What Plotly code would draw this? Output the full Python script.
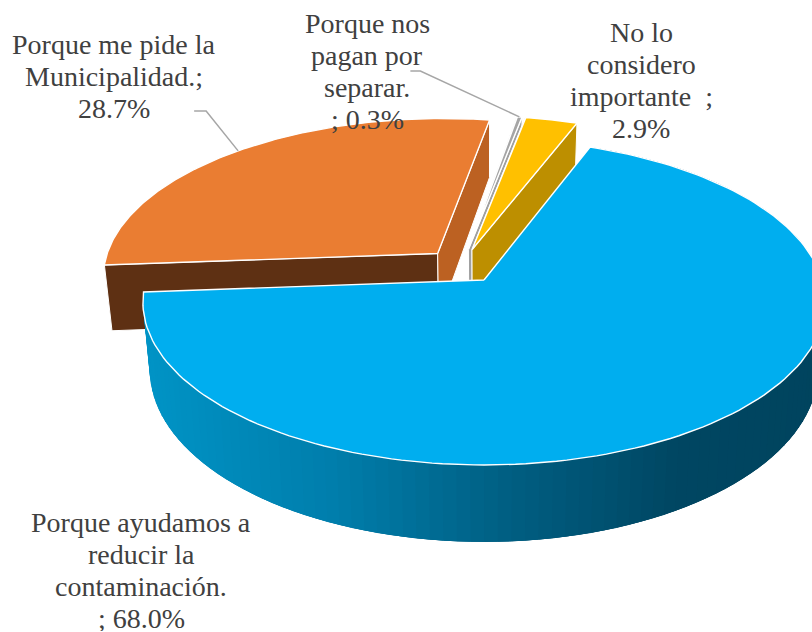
import math
import plotly.graph_objects as go

# ---- data ----
categories = ["Porque ayudamos a reducir la contaminación.", "Porque me pide la Municipalidad.",
              "Porque nos pagan por separar.", "No lo considero importante"]
values = [68.0, 28.7, 0.3, 2.9]
label_lines = [["Porque ayudamos a", "reducir la", "contaminación.", "; {v}%"],
               ["Porque me pide la", "Municipalidad.;", "{v}%"],
               ["Porque nos", "pagan por", "separar.", "; {v}%"],
               ["No lo", "considero", "importante\u00a0\u00a0;", "{v}%"]]
top_colors = ["#00AEEF", "#EA7D32", "#A5A5A5", "#FFC000"]
start_face_colors = ["#00668C", "#5E3013", "#8E8E8E", "#BD8F00"]
end_face_colors = ["#00668C", "#BC6122", "#A0A0A0", "#BD8F00"]
label_starts = [(141, 522), (114, 44), (367, 23), (641, 32)]
LINE_STEP = 32
text_color = "#404040"
leader_color = "#A6A6A6"

# ---- projection of the exploded 3-D pie ----
X0, Y0, A, B, K = 484, 280, 338, 160, 0.135
DEPTH, SHRINK = 66.6, 0.02
START_ANGLE = 20.7
EXPLODE = 0.11


def project(u, v, z=0.0):
    w = 1 + K * v
    return (X0 + A * u / w * (1 - SHRINK * z), Y0 - B * v / w + DEPTH * z / w)


def unit(deg):
    return math.sin(math.radians(deg)), math.cos(math.radians(deg))


total = sum(values)
spans = []
a = START_ANGLE
for val in values:
    spans.append((a, a + val / total * 360))
    a += val / total * 360
mid0 = unit((spans[0][0] + spans[0][1]) / 2)
offsets = []
for s, e in spans:
    m = unit((s + e) / 2)
    offsets.append((EXPLODE * (m[0] - mid0[0]), EXPLODE * (m[1] - mid0[1])))


def rim(i, deg, z=0.0):
    d = unit(deg)
    return project(d[0] + offsets[i][0], d[1] + offsets[i][1], z)


def apex(i, z=0.0):
    return project(offsets[i][0], offsets[i][1], z)


WALL_STOPS = [(140, (0, 148, 198)), (330, (0, 126, 172)), (500, (0, 96, 132)),
              (680, (0, 70, 98)), (830, (0, 68, 94))]


def wall_color(x):
    x = max(WALL_STOPS[0][0], min(WALL_STOPS[-1][0], x))
    for (x1, c1), (x2, c2) in zip(WALL_STOPS, WALL_STOPS[1:]):
        if x <= x2:
            t = (x - x1) / (x2 - x1)
            return "rgb(%d,%d,%d)" % tuple(round(p + (q - p) * t) for p, q in zip(c1, c2))
    return "rgb(0,68,94)"


fig = go.Figure()


def poly(points, fill, line="white", width=1.0):
    pts = list(points) + [points[0]]
    fig.add_trace(go.Scatter(x=[p[0] for p in pts], y=[p[1] for p in pts], mode="lines", fill="toself",
                             fillcolor=fill, line=dict(color=line, width=width), hoverinfo="skip",
                             showlegend=False))


def arc(i, n=160):
    s, e = spans[i]
    return [rim(i, s + (e - s) * t / n) for t in range(n + 1)]


for i in [2, 3, 1, 0]:
    s, e = spans[i]
    if i == 0:
        n = 120
        step = (e - s) / n
        # each band runs on under the next one, so no seams show between them
        for t in range(n):
            a1 = s + step * t
            a2 = min(e, a1 + 3 * step)
            am = a1 + step / 2
            q = [rim(i, a1), rim(i, a2), rim(i, a2, 1), rim(i, a1, 1)]
            poly(q, wall_color(rim(i, am)[0]), "rgba(0,0,0,0)", 0)
    else:
        poly([apex(i), rim(i, s), rim(i, s, 1), apex(i, 1)], start_face_colors[i])
        poly([apex(i), rim(i, e), rim(i, e, 1), apex(i, 1)], end_face_colors[i])
    poly([apex(i)] + arc(i), top_colors[i], "white", 1.4)


# ---- leader lines, ending on the middle of each slice's rim ----
def leader(i, knee_dx, end_dx, knee_y):
    m = rim(i, (spans[i][0] + spans[i][1]) / 2)
    fig.add_trace(go.Scatter(x=[m[0] + knee_dx, m[0] + end_dx, m[0]], y=[knee_y, knee_y, m[1]], mode="lines",
                             line=dict(color=leader_color, width=1.5), hoverinfo="skip", showlegend=False))


leader(1, -44, -32, 111)
leader(2, -109, -99, 71)

for lines, val, (cx, cy) in zip(label_lines, values, label_starts):
    for k, l in enumerate(lines):
        y = cy + k * LINE_STEP
        fig.add_annotation(x=cx, y=y, xref="x", yref="y", showarrow=False, align="center",
                           text=l.format(v=val), height=26 if y + 18 > 632 else None,
                           font=dict(family="Liberation Serif", size=28, color=text_color))

fig.update_layout(width=812, height=632, margin=dict(l=0, r=0, t=0, b=0), paper_bgcolor="white",
                  plot_bgcolor="white", showlegend=False,
                  xaxis=dict(range=[0, 812], visible=False, fixedrange=True),
                  yaxis=dict(range=[632, 0], visible=False, fixedrange=True))
fig.write_html("out.html", config={"displayModeBar": False},
               post_script="document.body.style.margin='0';document.body.style.overflow='hidden';")
